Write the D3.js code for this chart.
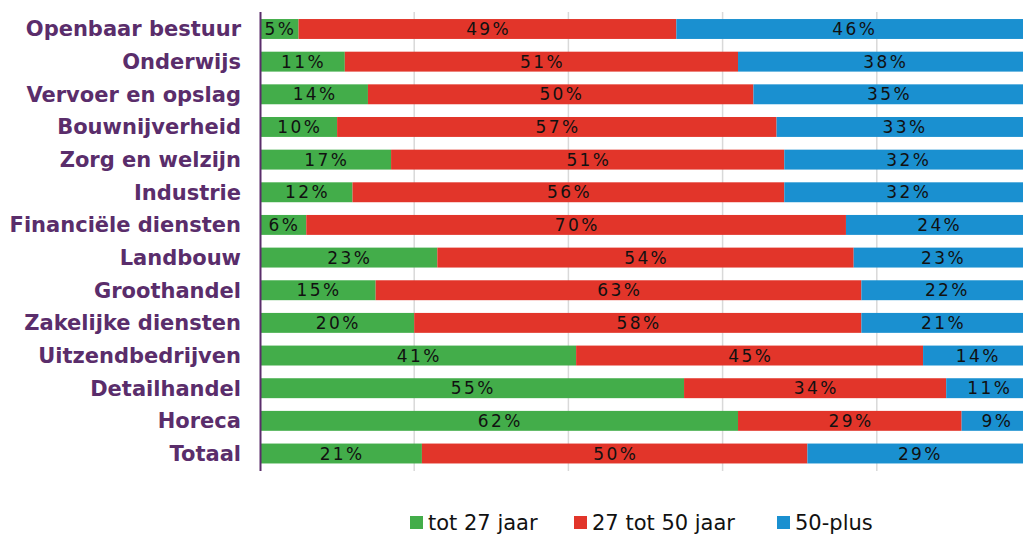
<!DOCTYPE html>
<html>
<head>
<meta charset="utf-8">
<script src="https://cdn.jsdelivr.net/npm/d3@7"></script>
<style>
  body { margin: 0; background: #fff; overflow: hidden; }
  svg { display: block; }
</style>
</head>
<body>
<div id="chart"></div>
<script>
// sectors, top to bottom
const categories = ["Openbaar bestuur", "Onderwijs", "Vervoer en opslag", "Bouwnijverheid",
  "Zorg en welzijn", "Industrie", "Financiële diensten", "Landbouw", "Groothandel",
  "Zakelijke diensten", "Uitzendbedrijven", "Detailhandel", "Horeca", "Totaal"];

const seriesNames = ["tot 27 jaar", "27 tot 50 jaar", "50-plus"];
const colors = ["#43ad4a", "#e2352a", "#1a90d0"];

// percentages per series
const tot27   = [5, 11, 14, 10, 17, 12, 6, 23, 15, 20, 41, 55, 62, 21];
const tot50   = [49, 51, 50, 57, 51, 56, 70, 54, 63, 58, 45, 34, 29, 50];
const plus50  = [46, 38, 35, 33, 32, 32, 24, 23, 22, 21, 14, 11, 9, 29];

const gridTicks = [0, 20, 40, 60, 80, 100];

const W = 1023, H = 534;
const svg = d3.select("#chart").append("svg")
  .attr("width", W).attr("height", H);

const x = d3.scaleLinear().domain([0, 100]).range([260, 1031]);
const y = d3.scaleBand().domain(categories).range([12.5, 470])
  .paddingInner(0.39).paddingOuter(0.2);

// vertical gridlines
svg.append("g").selectAll("line")
  .data(gridTicks.slice(1))
  .join("line")
  .attr("x1", d => x(d)).attr("x2", d => x(d))
  .attr("y1", 12).attr("y2", 471)
  .attr("stroke", "#d9d9d9").attr("stroke-width", 1.5);

// stack the data
const rows = categories.map((c, i) => ({ cat: c, s0: tot27[i], s1: tot50[i], s2: plus50[i] }));
const stack = d3.stack().keys(["s0", "s1", "s2"])(rows);

const layers = svg.append("g").selectAll("g")
  .data(stack)
  .join("g")
  .attr("fill", (d, i) => colors[i]);

layers.selectAll("rect")
  .data(d => d)
  .join("rect")
  .attr("x", d => x(d[0]))
  .attr("y", d => y(d.data.cat))
  .attr("width", d => x(d[1]) - x(d[0]))
  .attr("height", y.bandwidth());

// value labels
layers.selectAll("text")
  .data(d => d)
  .join("text")
  .attr("x", d => (x(d[0]) + x(d[1])) / 2 + 1.2)
  .attr("y", d => y(d.data.cat) + y.bandwidth() / 2 + 6)
  .attr("text-anchor", "middle")
  .attr("fill", "#111")
  .style("font-family", "DejaVu Sans, Verdana, sans-serif")
  .style("font-size", "17px")
  .style("letter-spacing", "2.4px")
  .text(d => (d[1] - d[0]) + "%");

// category labels
svg.append("g").selectAll("text")
  .data(categories)
  .join("text")
  .attr("x", 241)
  .attr("y", d => y(d) + y.bandwidth() / 2 + 7.5)
  .attr("text-anchor", "end")
  .attr("fill", "#5a2d6b")
  .style("font-family", "DejaVu Sans, Verdana, sans-serif")
  .style("font-weight", "bold")
  .style("font-size", "21px")
  .text(d => d);

// left axis line
svg.append("line")
  .attr("x1", 260.5).attr("x2", 260.5)
  .attr("y1", 12).attr("y2", 471)
  .attr("stroke", "#5a2d6b").attr("stroke-width", 2);

// legend
const legendX = [410, 574, 777];
const legend = svg.append("g").selectAll("g")
  .data(seriesNames)
  .join("g")
  .attr("transform", (d, i) => `translate(${legendX[i]},0)`);

legend.append("rect")
  .attr("x", 0).attr("y", 516)
  .attr("width", 13).attr("height", 13)
  .attr("fill", (d, i) => colors[i]);

legend.append("text")
  .attr("x", 18).attr("y", 530)
  .attr("fill", "#111")
  .style("font-family", "DejaVu Sans, Verdana, sans-serif")
  .style("font-size", "21px")
  .text(d => d);
</script>
</body>
</html>
